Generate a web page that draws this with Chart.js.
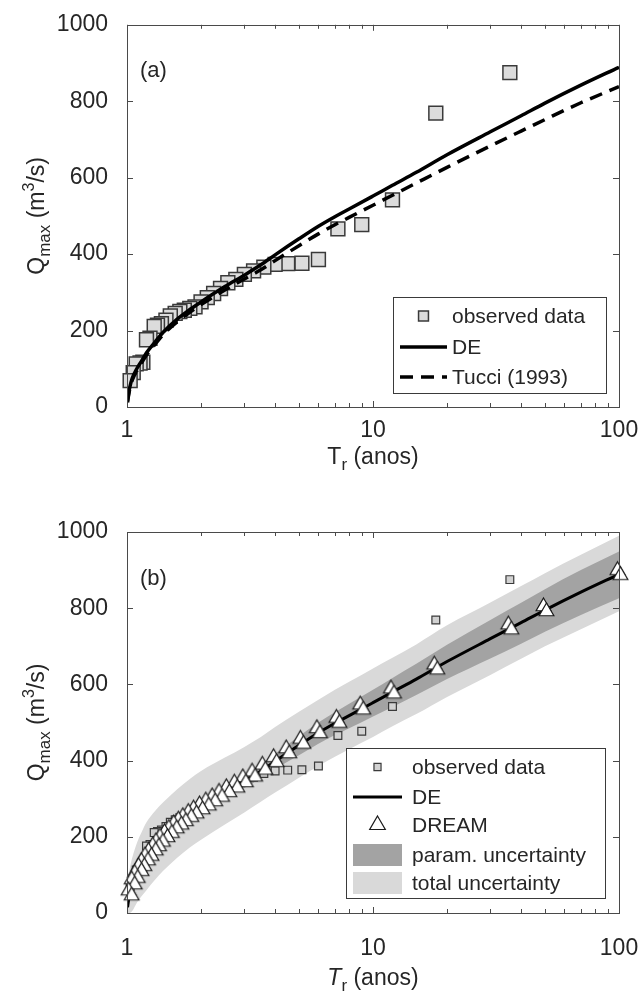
<!DOCTYPE html>
<html>
<head>
<meta charset="utf-8">
<script src="https://cdn.jsdelivr.net/npm/chart.js@4.4.1/dist/chart.umd.min.js"></script>
<style>
  body { margin: 0; background: #fff; }
  #wrap { position: relative; width: 640px; height: 994px; }
  canvas { position: absolute; left: 0; }
</style>
</head>
<body>
<div id="wrap">
  <canvas id="chartA" width="640" height="497" style="top:0px"></canvas>
  <canvas id="chartB" width="640" height="497" style="top:497px"></canvas>
</div>
<script>
// observed annual maxima (return period in years, discharge in m3/s)
const obsT = [36, 18, 12, 9, 7.2, 6, 5.14, 4.5, 4, 3.6, 3.27, 3, 2.77, 2.57, 2.4, 2.25, 2.12, 2,
  1.89, 1.8, 1.71, 1.64, 1.57, 1.5, 1.44, 1.38, 1.33, 1.29, 1.24, 1.2, 1.16, 1.13, 1.09, 1.06, 1.03];
const obsQ = [875, 769, 542, 477, 466, 386, 376, 375, 373, 366, 356, 347, 334, 325, 310, 297, 286, 275,
  262, 258, 253, 250, 245, 238, 227, 218, 214, 211, 180, 176, 117, 115, 113, 90, 69];

// fitted curves
const curveT = [1.005, 1.01, 1.025, 1.05, 1.1, 1.15, 1.2, 1.3, 1.4, 1.6, 1.8, 2, 2.5, 3, 3.5, 4, 5, 6, 7, 8,
  10, 12, 15, 20, 30, 40, 50, 70, 100];
const deQ = [15, 25, 50, 75, 102, 122, 142, 170, 195, 230, 255, 275, 315, 345, 372, 398, 440, 473, 498, 518,
  552, 580, 614, 660, 720, 762, 795, 842, 889];
const tucciQ = [12, 22, 46, 70, 97, 117, 136, 164, 189, 223, 248, 268, 306, 335, 359, 383, 422, 453, 477, 496,
  528, 554, 586, 627, 683, 722, 752, 796, 838];

// uncertainty bands (panel b)
const paramUpper = [18, 28, 54, 80, 108, 129, 150, 179, 205, 241, 267, 288, 330, 362, 390, 418, 464, 500, 527, 549,
  586, 617, 654, 704, 769, 814, 850, 900, 949];
const paramLower = [12, 22, 46, 70, 96, 115, 134, 161, 185, 219, 243, 262, 300, 328, 354, 378, 414, 444, 467, 485,
  516, 541, 572, 614, 668, 707, 738, 782, 826];
const totalUpper = [70, 88, 115, 145, 186, 214, 238, 268, 290, 325, 352, 373, 408, 436, 462, 488, 528, 560, 586, 607,
  642, 670, 705, 755, 815, 858, 892, 940, 990];
const totalLower = [0, 0, 0, 5, 28, 45, 60, 87, 110, 145, 172, 192, 232, 264, 292, 316, 355, 386, 410, 430,
  462, 490, 522, 567, 625, 667, 700, 745, 792];

// DREAM quantiles
const dreamT = [100, 50, 36, 18, 12, 9, 7.2, 6, 5.14, 4.5, 4, 3.6, 3.27, 3, 2.77, 2.57, 2.4, 2.25, 2.12, 2,
  1.89, 1.8, 1.71, 1.64, 1.57, 1.5, 1.44, 1.38, 1.33, 1.29, 1.24, 1.2, 1.16, 1.13, 1.09, 1.06, 1.03];
const dreamQ = [893, 798, 750, 645, 582, 540, 505, 478, 450, 425, 402, 382, 364, 349, 335, 323, 311, 299, 288, 278,
  267, 258, 247, 238, 228, 216, 205, 193, 181, 170, 156, 144, 129, 116, 98, 81, 52];

const xTicks = [1, 2, 3, 4, 5, 6, 7, 8, 9, 10, 20, 30, 40, 50, 60, 70, 80, 90, 100];
const xLabels = [1, 10, 100];

const fam = '"Liberation Sans", Arial, Helvetica, sans-serif';
const ink = '#262626';

function pts(xs, ys) {
  return xs.map((v, i) => ({ x: v, y: ys[i] }));
}

// the DREAM marker in the figure is a pair of slightly shifted triangles
function twinTriangle() {
  const c = document.createElement('canvas');
  c.width = 26; c.height = 28;
  const g = c.getContext('2d');
  const tri = (cx, cy) => {
    const r = 8.5;
    g.beginPath();
    g.moveTo(cx, cy - r);
    g.lineTo(cx + r * 0.866, cy + r * 0.5);
    g.lineTo(cx - r * 0.866, cy + r * 0.5);
    g.closePath();
    g.fillStyle = '#fff'; g.fill();
    g.lineWidth = 1.2; g.strokeStyle = '#1a1a1a'; g.stroke();
  };
  tri(11.5, 11.5);
  tri(14.5, 16.5);
  return c;
}

// text with sub/superscripts: parts = [text, size, dy, style]
function richText(ctx, parts, x, y, align) {
  let w = 0;
  parts.forEach(p => {
    ctx.font = (p[3] || '') + ' ' + p[1] + 'px ' + fam;
    w += ctx.measureText(p[0]).width;
  });
  let cx = align === 'center' ? x - w / 2 : x;
  parts.forEach(p => {
    ctx.font = (p[3] || '') + ' ' + p[1] + 'px ' + fam;
    ctx.fillText(p[0], cx, y + (p[2] || 0));
    cx += ctx.measureText(p[0]).width;
  });
}

// box around the axes + inward ticks, like matlab
const axesBox = {
  id: 'axesBox',
  afterDatasetsDraw(chart) {
    const { ctx, chartArea: a, scales } = chart;
    ctx.save();
    ctx.strokeStyle = '#4a4a4a';
    ctx.lineWidth = 1;
    ctx.beginPath();
    scales.x.ticks.forEach(t => {
      const px = Math.round(scales.x.getPixelForValue(t.value)) + 0.5;
      const len = xLabels.includes(t.value) ? 6 : 4;
      ctx.moveTo(px, a.bottom); ctx.lineTo(px, a.bottom - len);
      ctx.moveTo(px, a.top); ctx.lineTo(px, a.top + len);
    });
    scales.y.ticks.forEach(t => {
      const py = Math.round(scales.y.getPixelForValue(t.value)) + 0.5;
      ctx.moveTo(a.left, py); ctx.lineTo(a.left + 6, py);
      ctx.moveTo(a.right, py); ctx.lineTo(a.right - 6, py);
    });
    ctx.stroke();
    ctx.strokeRect(Math.round(a.left) + 0.5, Math.round(a.top) + 0.5, Math.round(a.width), Math.round(a.height));
    ctx.restore();
  }
};

// titles, panel letter and legend
const decorations = {
  id: 'decorations',
  afterDraw(chart) {
    const o = chart.options.plugins.decorations;
    const { ctx, chartArea: a } = chart;
    ctx.save();
    ctx.fillStyle = ink;
    ctx.textBaseline = 'alphabetic';

    // y title
    ctx.save();
    ctx.translate(o.yTitleX, (a.top + a.bottom) / 2);
    ctx.rotate(-Math.PI / 2);
    richText(ctx, [['Q', 23, 0], ['max', 17, 6], [' (m', 23, 0], ['3', 16, -10], ['/s)', 23, 0]], 0, 0, 'center');
    ctx.restore();

    // x title
    richText(ctx, [['T', 23, 0, o.italicT ? 'italic' : ''], ['r', 17, 6], [' (anos)', 23, 0]],
      (a.left + a.right) / 2, o.xTitleY, 'center');

    // panel letter
    ctx.font = '22px ' + fam;
    ctx.fillText(o.letter, a.left + 13, a.top + o.letterDy);

    // legend
    const lg = o.legend;
    ctx.fillStyle = '#fff';
    ctx.fillRect(lg.x, lg.y, lg.w, lg.h);
    ctx.strokeStyle = '#3a3a3a';
    ctx.lineWidth = 1;
    ctx.strokeRect(lg.x + 0.5, lg.y + 0.5, lg.w, lg.h);
    lg.items.forEach((it, i) => {
      const ds = chart.data.datasets[it.ds];
      const cy = lg.rowY[i];
      const mx = (lg.sx0 + lg.sx1) / 2;
      ctx.save();
      if (it.kind === 'line') {
        ctx.strokeStyle = ds.borderColor;
        ctx.lineWidth = ds.borderWidth;
        ctx.setLineDash(ds.borderDash || []);
        ctx.beginPath();
        ctx.moveTo(lg.sx0, cy); ctx.lineTo(lg.sx1, cy);
        ctx.stroke();
      } else if (it.kind === 'patch') {
        ctx.fillStyle = ds.backgroundColor;
        ctx.fillRect(lg.sx0, cy - 11, lg.sx1 - lg.sx0, 22);
      } else {
        ctx.fillStyle = ds.pointBackgroundColor;
        ctx.strokeStyle = ds.pointBorderColor;
        ctx.lineWidth = ds.pointBorderWidth;
        Chart.helpers.drawPoint(ctx, {
          pointStyle: it.style || ds.pointStyle, radius: it.r, borderWidth: ds.pointBorderWidth, rotation: 0
        }, mx, cy);
      }
      ctx.restore();
      ctx.fillStyle = ink;
      ctx.font = '21px ' + fam;
      ctx.textBaseline = 'middle';
      ctx.fillText(it.label, lg.tx, cy + 1);
    });
    ctx.restore();
  }
};

function scalesFor(xHeight, tickPad) {
  return {
    x: {
      type: 'logarithmic', min: 1, max: 100,
      afterBuildTicks: s => { s.ticks = xTicks.map(v => ({ value: v })); },
      // fixed axis height; the label overhang is covered by the layout padding
      afterFit: s => { s.height = xHeight; s.paddingLeft = 0; s.paddingRight = 0; },
      grid: { display: false }, border: { display: false },
      ticks: {
        autoSkip: false, maxRotation: 0, padding: tickPad, color: ink,
        font: { family: fam, size: 23 },
        callback: v => xLabels.includes(v) ? String(v) : ''
      }
    },
    y: {
      min: 0, max: 1000,
      afterFit: s => { s.width = 127; },
      grid: { display: false }, border: { display: false },
      ticks: { stepSize: 200, padding: 11, color: ink, font: { family: fam, size: 23 }, callback: v => String(v) }
    }
  };
}

// panel (a)
new Chart(document.getElementById('chartA'), {
  type: 'line',
  data: {
    datasets: [
      {
        label: 'observed data', data: pts(obsT, obsQ), showLine: false, order: 3, clip: false,
        pointStyle: 'rect', pointRadius: 9.8, pointBackgroundColor: '#dcdcdc',
        pointBorderColor: '#3a3a3a', pointBorderWidth: 1.5
      },
      {
        label: 'DE', data: pts(curveT, deQ), order: 1, borderColor: '#000', borderWidth: 3.5,
        pointRadius: 0, cubicInterpolationMode: 'monotone', fill: false
      },
      {
        label: 'Tucci (1993)', data: pts(curveT, tucciQ), order: 2, borderColor: '#000', borderWidth: 3.5,
        borderDash: [13, 8], pointRadius: 0, cubicInterpolationMode: 'monotone', fill: false
      }
    ]
  },
  options: {
    responsive: false, animation: false,
    layout: { padding: { left: 0, right: 21, top: 24, bottom: 0 } },
    scales: scalesFor(90, 2),
    plugins: {
      legend: { display: false }, tooltip: { enabled: false },
      decorations: {
        yTitleX: 44, xTitleY: 464, letter: '(a)', letterDy: 52, italicT: false,
        legend: {
          x: 393, y: 297, w: 213, h: 96, sx0: 400, sx1: 447, tx: 452, rowY: [316, 347, 377],
          items: [
            { ds: 0, kind: 'point', label: 'observed data', r: 7 },
            { ds: 1, kind: 'line', label: 'DE' },
            { ds: 2, kind: 'line', label: 'Tucci (1993)' }
          ]
        }
      }
    }
  },
  plugins: [axesBox, decorations]
});

// panel (b)
new Chart(document.getElementById('chartB'), {
  type: 'line',
  data: {
    datasets: [
      {
        label: 'observed data', data: pts(obsT, obsQ), showLine: false, order: 4, clip: false,
        pointStyle: 'rect', pointRadius: 5.5, pointBackgroundColor: '#d2d2d2',
        pointBorderColor: '#3a3a3a', pointBorderWidth: 1.2
      },
      {
        label: 'DE', data: pts(curveT, deQ), order: 2, borderColor: '#000', borderWidth: 3,
        pointRadius: 0, cubicInterpolationMode: 'monotone', fill: false
      },
      {
        label: 'DREAM', data: pts(dreamT, dreamQ), showLine: false, order: 1, clip: false,
        pointStyle: twinTriangle(), pointRadius: 9, pointBackgroundColor: '#fff',
        pointBorderColor: '#1a1a1a', pointBorderWidth: 1.2
      },
      {
        label: 'param. uncertainty', data: pts(curveT, paramUpper), order: 6, fill: '+1',
        backgroundColor: '#a3a3a3', borderWidth: 0, pointRadius: 0, cubicInterpolationMode: 'monotone'
      },
      {
        label: 'param low', data: pts(curveT, paramLower), order: 6, fill: false,
        borderWidth: 0, pointRadius: 0, cubicInterpolationMode: 'monotone'
      },
      {
        label: 'total uncertainty', data: pts(curveT, totalUpper), order: 8, fill: '+1',
        backgroundColor: '#d9d9d9', borderWidth: 0, pointRadius: 0, cubicInterpolationMode: 'monotone'
      },
      {
        label: 'total low', data: pts(curveT, totalLower), order: 8, fill: false,
        borderWidth: 0, pointRadius: 0, cubicInterpolationMode: 'monotone'
      }
    ]
  },
  options: {
    responsive: false, animation: false,
    layout: { padding: { left: 0, right: 21, top: 35, bottom: 0 } },
    scales: scalesFor(81, 14),
    plugins: {
      legend: { display: false }, tooltip: { enabled: false },
      filler: { propagate: false },
      decorations: {
        yTitleX: 44, xTitleY: 488, letter: '(b)', letterDy: 53, italicT: true,
        legend: {
          x: 346, y: 251, w: 259, h: 150, sx0: 353, sx1: 402, tx: 412, rowY: [270, 300, 328, 358, 386],
          items: [
            { ds: 0, kind: 'point', label: 'observed data', r: 5 },
            { ds: 1, kind: 'line', label: 'DE' },
            { ds: 2, kind: 'point', label: 'DREAM', r: 9, style: 'triangle' },
            { ds: 3, kind: 'patch', label: 'param. uncertainty' },
            { ds: 5, kind: 'patch', label: 'total uncertainty' }
          ]
        }
      }
    }
  },
  plugins: [axesBox, decorations]
});
</script>
</body>
</html>
